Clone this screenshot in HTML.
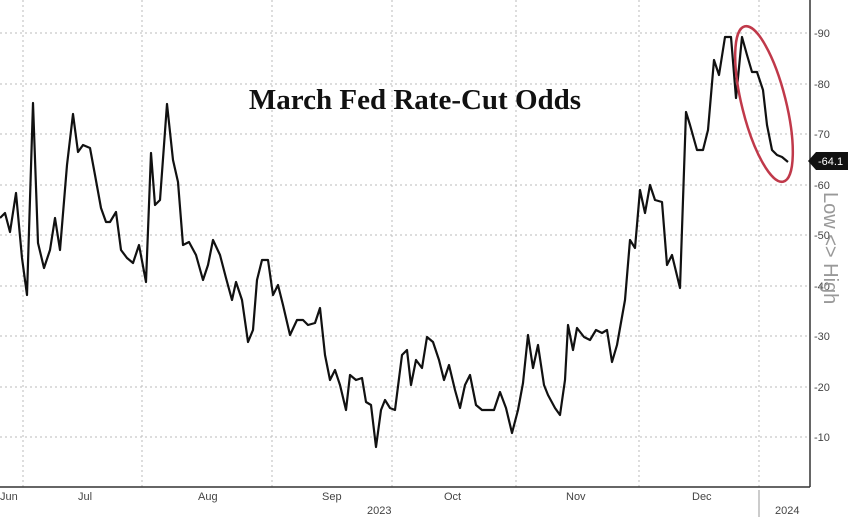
<!DOCTYPE html><html><head><style>body{margin:0;background:#fff}svg{display:block}</style></head><body>
<svg width="848" height="517" xmlns="http://www.w3.org/2000/svg" font-family="Liberation Sans, sans-serif">
<g stroke="#bbb" stroke-dasharray="2,3" stroke-width="1">
<line x1="0" y1="33" x2="808" y2="33"/><line x1="0" y1="84" x2="808" y2="84"/><line x1="0" y1="134" x2="808" y2="134"/><line x1="0" y1="185" x2="808" y2="185"/><line x1="0" y1="235" x2="808" y2="235"/><line x1="0" y1="286" x2="808" y2="286"/><line x1="0" y1="336" x2="808" y2="336"/><line x1="0" y1="387" x2="808" y2="387"/><line x1="0" y1="437" x2="808" y2="437"/>
<line x1="23" y1="0" x2="23" y2="487"/><line x1="142" y1="0" x2="142" y2="487"/><line x1="272" y1="0" x2="272" y2="487"/><line x1="392" y1="0" x2="392" y2="487"/><line x1="516" y1="0" x2="516" y2="487"/><line x1="639" y1="0" x2="639" y2="487"/><line x1="759" y1="0" x2="759" y2="487"/>
</g>
<line x1="0" y1="487" x2="810" y2="487" stroke="#333" stroke-width="1.5"/>
<line x1="810" y1="0" x2="810" y2="487" stroke="#333" stroke-width="1.5"/>
<g font-size="11" fill="#444">
<text x="814" y="37">-90</text><text x="814" y="88">-80</text><text x="814" y="138">-70</text><text x="814" y="189">-60</text><text x="814" y="239">-50</text><text x="814" y="290">-40</text><text x="814" y="340">-30</text><text x="814" y="391">-20</text><text x="814" y="441">-10</text>
<text x="0" y="500">Jun</text><text x="78" y="500">Jul</text><text x="198" y="500">Aug</text><text x="322" y="500">Sep</text><text x="444" y="500">Oct</text><text x="566" y="500">Nov</text><text x="692" y="500">Dec</text>
<text x="367" y="514">2023</text><text x="775" y="514">2024</text>
</g>
<line x1="759" y1="490" x2="759" y2="517" stroke="#999"/>
<text transform="translate(824,192) rotate(90)" font-size="20" fill="#999">Low &lt;&gt; High</text>
<text x="415" y="109" text-anchor="middle" font-family="Liberation Serif, serif" font-weight="bold" font-size="29" fill="#111">March Fed Rate-Cut Odds</text>
<polyline fill="none" stroke="#111" stroke-width="2.2" stroke-linejoin="round" points="0,218 5,213 10,232 16,193 22,258 27,295 33,103 38,243 44,268 50,250 55,218 60,250 67,165 73,114 78,152 83,145 90,148 95,175 101,208 106,222 110,222 116,212 121,250 127,258 133,263 139,245 146,282 151,153 155,205 160,200 167,104 173,160 178,182 183,245 189,242 196,255 203,280 208,265 213,240 220,255 226,278 232,300 236,282 242,300 248,342 253,330 257,280 262,260 268,260 273,295 278,285 283,305 290,335 297,320 303,320 308,325 315,323 320,308 325,355 330,380 335,370 340,385 346,410 350,375 356,380 362,378 366,402 371,405 376,447 381,410 385,400 390,408 395,410 402,355 407,350 411,385 416,360 422,368 427,337 433,342 439,360 444,380 449,365 455,390 460,408 465,385 470,375 476,405 482,410 488,410 494,410 500,392 506,408 512,433 518,410 523,383 528,335 533,368 538,345 544,385 548,395 555,408 560,415 565,380 568,325 573,350 577,328 584,337 590,340 596,330 602,333 607,330 612,362 617,345 625,300 630,240 635,248 640,190 645,213 650,185 655,200 662,202 667,265 672,255 680,288 686,112 690,125 697,150 703,150 708,130 714,60 719,75 725,37 731,37 736,98 742,37 747,55 752,72 757,72 763,90 767,125 772,150 777,155 782,157 788,162"/>
<ellipse cx="764" cy="104" rx="22" ry="80" transform="rotate(-14 764 104)" fill="none" stroke="#c0394a" stroke-width="2.5"/>
<path d="M808,161 L816,152 L848,152 L848,170 L816,170 Z" fill="#111"/>
<text x="818" y="165" font-size="11" fill="#fff">-64.1</text>
</svg>
</body></html>
